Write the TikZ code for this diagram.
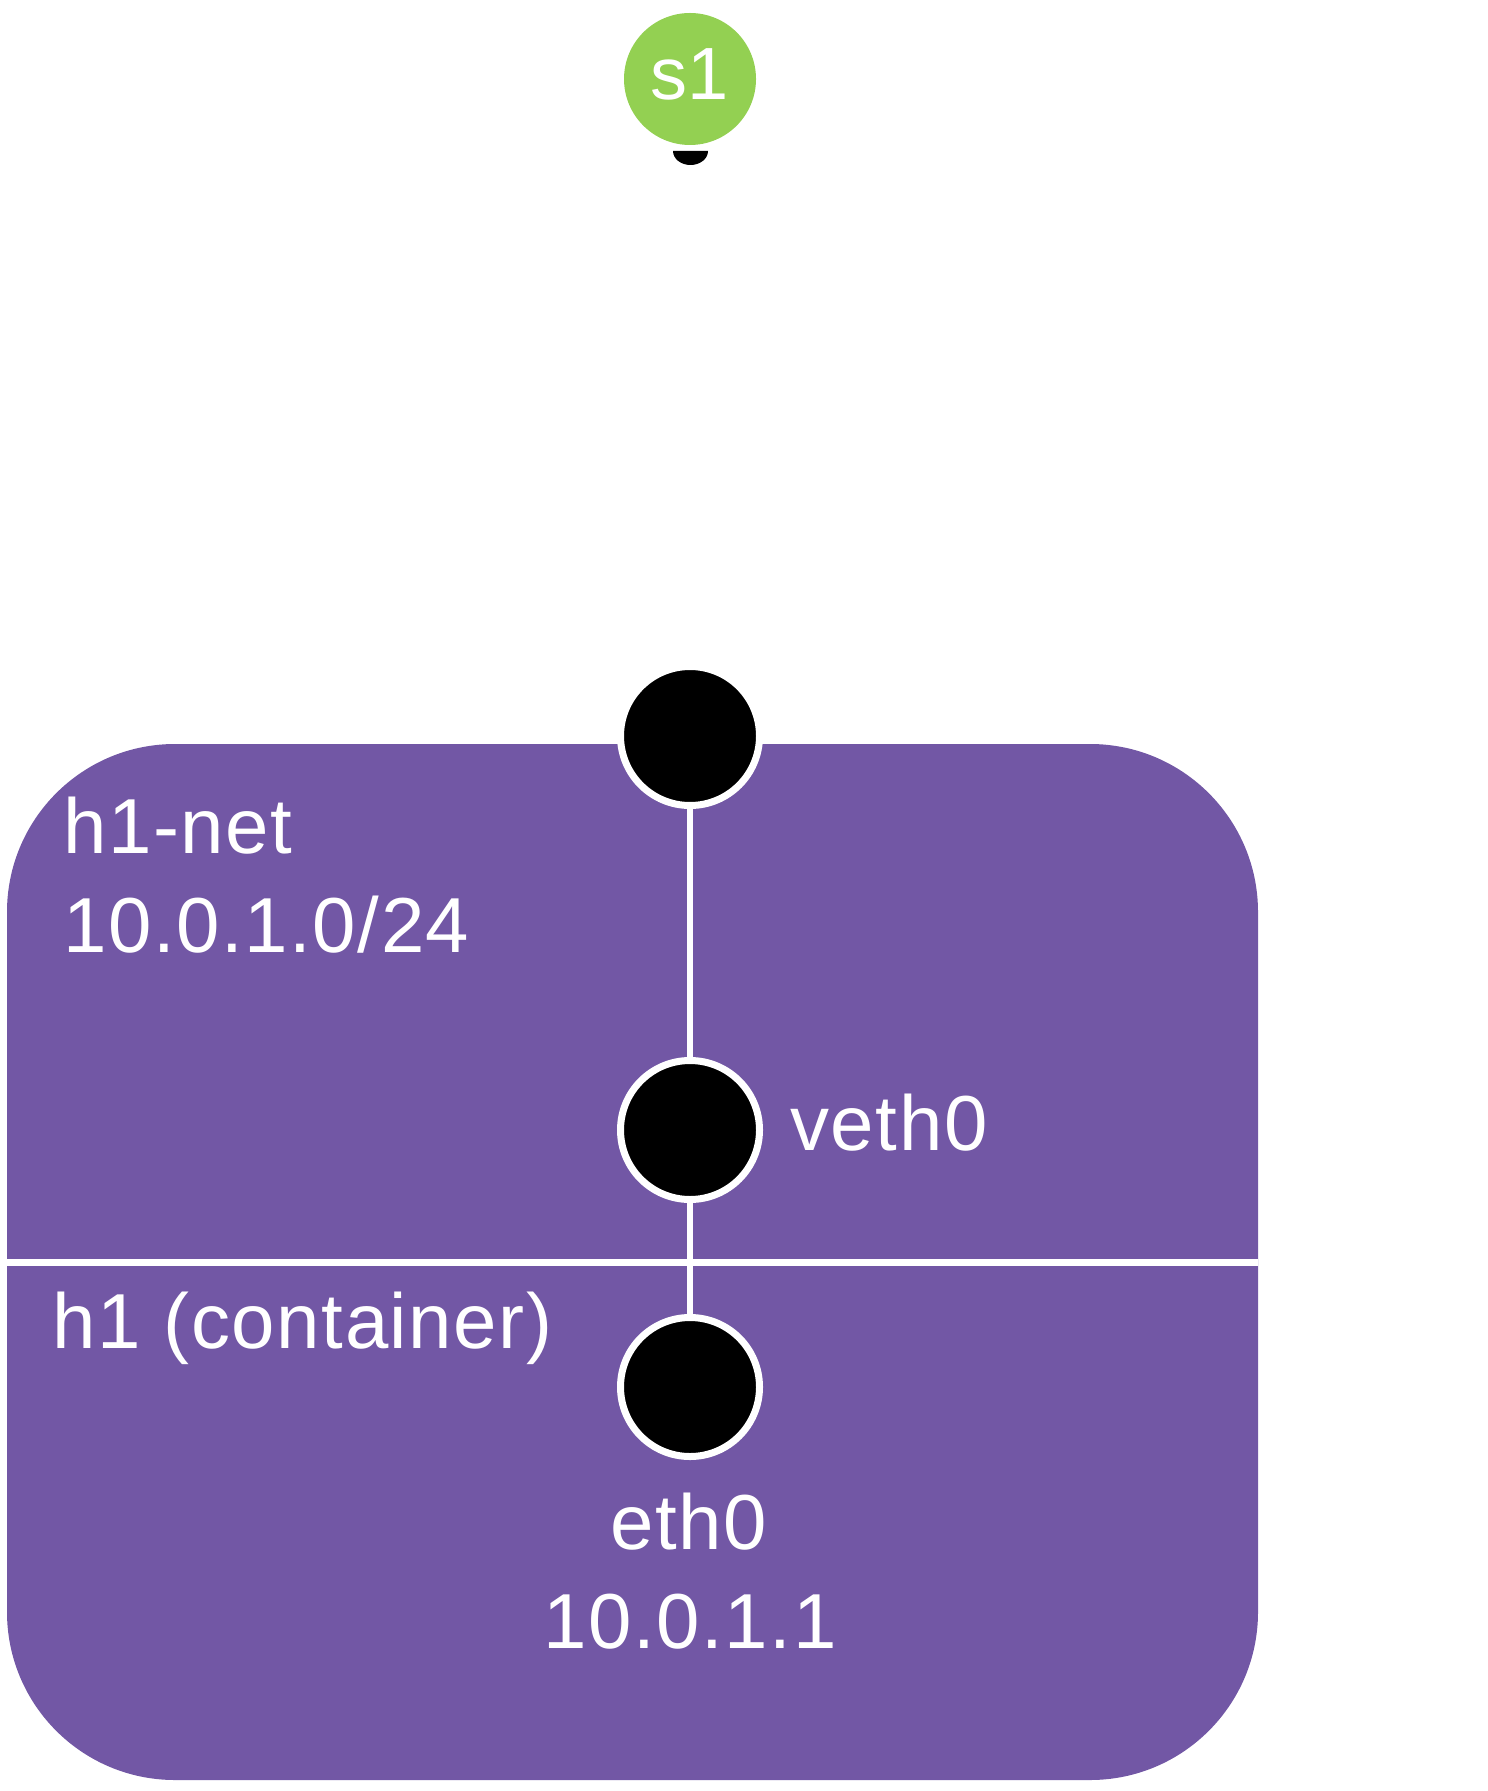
\documentclass[tikz,border=0pt]{standalone}
\usepackage{fontspec}
\setmainfont{Liberation Sans}
\newfontfamily\lblfont[LetterSpace=2]{Liberation Sans}
\definecolor{netpurple}{RGB}{114,87,165}
\definecolor{swgreen}{RGB}{147,208,82}
\tikzset{
  lbl/.style={text=white, inner sep=0pt, font=\lblfont\fontsize{39}{46}\selectfont},
  port/.style={circle, fill=black, draw=white, line width=3.5pt, minimum size=69.5pt, inner sep=0pt},
  link/.style={draw=white, line width=3.3pt},
}
\begin{document}
\begin{tikzpicture}[x=0.5pt,y=-0.5pt]
\useasboundingbox (0,0) rectangle (1487,1791);
% network box
\fill[netpurple, rounded corners=84pt] (7,744) rectangle (1258,1780);
\coordinate (divL) at (7,1262.5);
\coordinate (divR) at (1258,1262.5);
\draw[white, line width=3.5pt] (divL) -- (divR);
% switch
\node[circle, fill=swgreen, minimum size=66pt, inner sep=0pt] (s1) at (690,79) {};
\node[text=white, inner sep=0pt, font=\fontsize{37}{44}\selectfont, anchor=base] (s1t) at (690,100) {s1};
\fill[black] (673,151) arc[start angle=180, end angle=0, x radius=17.5, y radius=14] -- cycle;
% ports
\node[port] (p0) at (690,736) {};
\node[port] (veth) at (690,1130) {};
\node[port] (eth) at (690,1387) {};
\draw[link] (p0) -- (veth);
\draw[link] (veth) -- (eth);
% labels
\node[lbl, anchor=base west] (netname) at (63,853) {h1-net};
\node[lbl, anchor=base west] (netaddr) at (63,952) {10.0.1.0/24};
\node[lbl, anchor=base west] (hname) at (52,1348) {h1 (container)};
\node[lbl, anchor=base west] (vethl) at (790,1150) {veth0};
\node[lbl, anchor=base] (ethl) at (689,1549) {eth0};
\node[lbl, anchor=base] (ethaddr) at (690,1648) {10.0.1.1};
\end{tikzpicture}
\end{document}
